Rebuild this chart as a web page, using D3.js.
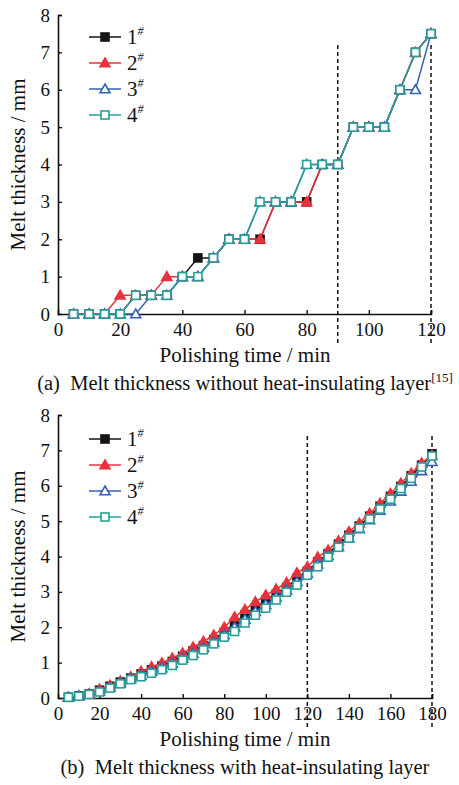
<!DOCTYPE html>
<html>
<head>
<meta charset="utf-8">
<script src="https://cdn.jsdelivr.net/npm/d3@7"></script>
<style>
  body { margin: 0; background: #fff; }
  svg text { font-family: "Liberation Serif", "DejaVu Serif", serif; fill: #111; }
</style>
</head>
<body>
<div id="chart"></div>
<script>
// ---- data: panel (a), without heat-insulating layer ----
var timeA = [5, 10, 15, 20, 25, 30, 35, 40, 45, 50, 55, 60, 65, 70, 75, 80, 85, 90, 95, 100, 105, 110, 115, 120];
var a1 = [0, 0, 0, 0, 0.5, 0.5, 0.5, 1, 1.5, 1.5, 2, 2, 2, 3, 3, 3, 4, 4, 5, 5, 5, 6, 7, 7.5];
var a2 = [0, 0, 0, 0.5, 0.5, 0.5, 1, 1, 1, 1.5, 2, 2, 2, 3, 3, 3, 4, 4, 5, 5, 5, 6, 7, 7.5];
var a3 = [0, 0, 0, 0, 0, 0.5, 0.5, 1, 1, 1.5, 2, 2, 3, 3, 3, 4, 4, 4, 5, 5, 5, 6, 6, 7.5];
var a4 = [0, 0, 0, 0, 0.5, 0.5, 0.5, 1, 1, 1.5, 2, 2, 3, 3, 3, 4, 4, 4, 5, 5, 5, 6, 7, 7.5];

// ---- data: panel (b), with heat-insulating layer ----
var timeB = [5, 10, 15, 20, 25, 30, 35, 40, 45, 50, 55, 60, 65, 70, 75, 80, 85, 90,
  95, 100, 105, 110, 115, 120, 125, 130, 135, 140, 145, 150, 155, 160, 165, 170, 175, 180];
var b1 = [0.02, 0.06, 0.11, 0.22, 0.33, 0.45, 0.56, 0.68, 0.8, 0.9, 1.03, 1.18, 1.33, 1.48, 1.65, 1.85, 2.12, 2.35,
  2.55, 2.76, 2.93, 3.12, 3.38, 3.58, 3.85, 4.08, 4.35, 4.6, 4.86, 5.14, 5.42, 5.7, 5.98, 6.28, 6.58, 6.9];
var b2 = [0.02, 0.06, 0.12, 0.25, 0.36, 0.48, 0.6, 0.75, 0.88, 0.99, 1.13, 1.27, 1.44, 1.6, 1.78, 2.0, 2.29, 2.5,
  2.72, 2.91, 3.08, 3.26, 3.54, 3.71, 3.98, 4.18, 4.44, 4.7, 4.94, 5.22, 5.5, 5.78, 6.07, 6.35, 6.64, 6.86];
var b3 = [0.02, 0.05, 0.1, 0.19, 0.3, 0.42, 0.54, 0.64, 0.75, 0.85, 0.98, 1.12, 1.26, 1.42, 1.58, 1.78, 2.0, 2.22,
  2.44, 2.64, 2.85, 3.05, 3.28, 3.52, 3.78, 4.02, 4.28, 4.52, 4.78, 5.03, 5.3, 5.56, 5.84, 6.12, 6.42, 6.68];
var b4 = [0.02, 0.05, 0.1, 0.17, 0.28, 0.4, 0.52, 0.6, 0.7, 0.8, 0.92, 1.07, 1.2, 1.36, 1.53, 1.72, 1.88, 2.12,
  2.34, 2.54, 2.77, 2.99, 3.19, 3.47, 3.71, 3.98, 4.26, 4.52, 4.8, 5.06, 5.34, 5.62, 5.92, 6.21, 6.53, 6.84];

var seriesNames = ["1", "2", "3", "4"];
var seriesColors = ["#151515", "#e8323c", "#3563b3", "#27a09b"];
var seriesShapes = ["square-filled", "triangle-filled", "triangle-open", "square-open"];

var yTicks = [0, 1, 2, 3, 4, 5, 6, 7, 8];
var xTicksA = [0, 20, 40, 60, 80, 100, 120];
var xTicksB = [0, 20, 40, 60, 80, 100, 120, 140, 160, 180];
var dashA = [90, 120];
var dashB = [120, 180];

var FONT = "'Liberation Serif', 'DejaVu Serif', serif";
var width = 459, height = 785;
var svg = d3.select("#chart").append("svg")
  .attr("width", width)
  .attr("height", height)
  .style("font-family", FONT);

function drawMarker(g, shape, color, x, y) {
  if (shape.indexOf("square") === 0) {
    g.append("rect")
      .attr("x", x - 4).attr("y", y - 4)
      .attr("width", 8).attr("height", 8)
      .attr("fill", shape === "square-filled" ? color : "#fff")
      .attr("stroke", color).attr("stroke-width", 1.6);
  } else {
    var s = 5;
    g.append("path")
      .attr("d", "M" + x + "," + (y - s) + "L" + (x + s) + "," + (y + s * 0.75) + "L" + (x - s) + "," + (y + s * 0.75) + "Z")
      .attr("fill", shape === "triangle-filled" ? color : "#fff")
      .attr("stroke", color).attr("stroke-width", 1.6);
  }
}

function drawPanel(cfg) {
  var x = d3.scaleLinear().domain(cfg.xDomain).range([58, cfg.xRight]);
  var y = d3.scaleLinear().domain([0, 8]).range([cfg.yBottom, cfg.yTop]);
  var g = svg.append("g");

  // dashed reference lines
  cfg.dash.forEach(function (d) {
    g.append("line")
      .attr("x1", x(d)).attr("x2", x(d))
      .attr("y1", cfg.dashTop).attr("y2", cfg.yBottom + 31)
      .attr("stroke", "#111").attr("stroke-width", 1.5)
      .attr("stroke-dasharray", "4,3");
  });

  // axes
  var yAxis = d3.axisLeft(y).tickValues(yTicks).tickSize(-4).tickPadding(8);
  var xAxis = d3.axisBottom(x).tickValues(cfg.xTicks).tickSize(-4).tickPadding(9);

  var ya = g.append("g").attr("transform", "translate(58,0)").call(yAxis);
  var xa = g.append("g").attr("transform", "translate(0," + cfg.yBottom + ")").call(xAxis);
  ya.attr("font-family", null).attr("font-size", null);
  xa.attr("font-family", null).attr("font-size", null);
  g.selectAll(".domain").attr("stroke", "#111").attr("stroke-width", 1.6);
  g.selectAll(".tick line").attr("stroke", "#111").attr("stroke-width", 1.4);
  g.selectAll(".tick text")
    .style("font-family", FONT)
    .style("font-size", "19px")
    .attr("fill", "#111");
  g.selectAll(".tick").filter(function (d) { return d === 0; }).select("line").remove();

  // series
  cfg.series.forEach(function (vals, k) {
    var pts = cfg.time.map(function (t, i) { return [t, vals[i]]; });
    g.append("path")
      .datum(pts)
      .attr("fill", "none")
      .attr("stroke", seriesColors[k])
      .attr("stroke-width", 1.5)
      .attr("d", d3.line().x(function (d) { return x(d[0]); }).y(function (d) { return y(d[1]); }));
    var mg = g.append("g");
    pts.forEach(function (d) {
      drawMarker(mg, seriesShapes[k], seriesColors[k], x(d[0]), y(d[1]));
    });
  });

  // legend
  seriesNames.forEach(function (name, k) {
    var ly = cfg.legendTop + k * 26;
    g.append("line")
      .attr("x1", 89).attr("x2", 121).attr("y1", ly).attr("y2", ly)
      .attr("stroke", seriesColors[k]).attr("stroke-width", 1.5);
    drawMarker(g, seriesShapes[k], seriesColors[k], 105, ly);
    var t = g.append("text").attr("x", 127).attr("y", ly + 7).style("font-size", "21px");
    t.append("tspan").text(name);
    t.append("tspan").attr("dy", -9).style("font-size", "12px").style("font-style", "italic").text("#");
  });

  // axis titles
  g.append("text")
    .attr("transform", "translate(25," + ((cfg.yTop + cfg.yBottom) / 2) + ") rotate(-90)")
    .attr("text-anchor", "middle")
    .style("font-size", "21px")
    .text("Melt thickness / mm");
  g.append("text")
    .attr("x", 245).attr("y", cfg.yBottom + 48)
    .attr("text-anchor", "middle")
    .style("font-size", "21px")
    .text("Polishing time / min");

  var cap = g.append("text")
    .attr("x", 245).attr("y", cfg.yBottom + 76)
    .attr("text-anchor", "middle")
    .style("font-size", "20.5px")
    .text(cfg.caption);
  if (cfg.capSup) {
    cap.append("tspan").attr("dy", -8).style("font-size", "13px").text(cfg.capSup);
  }
}

drawPanel({
  time: timeA, series: [a1, a2, a3, a4],
  xDomain: [0, 120], xRight: 431, xTicks: xTicksA,
  yTop: 15, yBottom: 314, dash: dashA, dashTop: 45, legendTop: 37,
  caption: "(a)\u00a0\u00a0Melt thickness without heat-insulating layer", capSup: "[15]"
});

drawPanel({
  time: timeB, series: [b1, b2, b3, b4],
  xDomain: [0, 180], xRight: 432, xTicks: xTicksB,
  yTop: 415, yBottom: 698, dash: dashB, dashTop: 436, legendTop: 439,
  caption: "(b)\u00a0\u00a0Melt thickness with heat-insulating layer", capSup: null
});
</script>
</body>
</html>
